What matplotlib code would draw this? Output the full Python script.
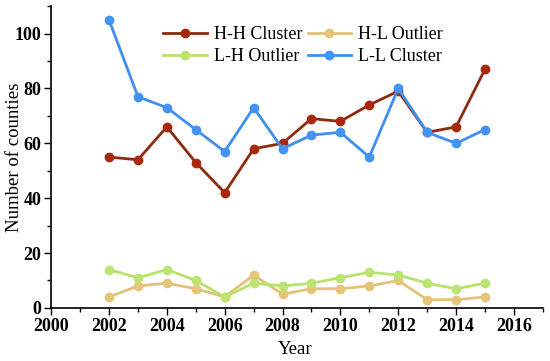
import matplotlib.pyplot as plt
from matplotlib.ticker import MultipleLocator

# DATA
years = [2002, 2003, 2004, 2005, 2006, 2007, 2008, 2009, 2010, 2011, 2012, 2013, 2014, 2015]
hh_cluster = [55, 54, 66, 53, 42, 58, 60, 69, 68, 74, 79, 64, 66, 87]
hl_outlier = [4, 8, 9, 7, 4, 12, 5, 7, 7, 8, 10, 3, 3, 4]
lh_outlier = [14, 11, 14, 10, 4, 9, 8, 9, 11, 13, 12, 9, 7, 9]
ll_cluster = [105, 77, 73, 65, 57, 73, 58, 63, 64, 55, 80, 64, 60, 65]

plt.rcParams['font.family'] = ['Liberation Serif', 'DejaVu Serif']


def main():
    fig = plt.figure(figsize=(5.5, 3.61), dpi=100)
    ax = fig.add_axes([0.093, 0.147, 0.894, 0.836])

    l1, = ax.plot(years, hh_cluster, color='#8e2a0e', marker='o', markersize=6,
                  markerfacecolor='#a8280c', markeredgecolor='#a8280c', lw=2, label='H-H Cluster')
    l2, = ax.plot(years, hl_outlier, color='#e3c278', marker='o', markersize=6,
                  markerfacecolor='#e6c57a', markeredgecolor='#e6c57a', lw=2, label='H-L Outlier')
    l3, = ax.plot(years, lh_outlier, color='#b8e26e', marker='o', markersize=6,
                  markerfacecolor='#bde473', markeredgecolor='#bde473', lw=2, label='L-H Outlier')
    l4, = ax.plot(years, ll_cluster, color='#3f8ff0', marker='o', markersize=6,
                  markerfacecolor='#4492f2', markeredgecolor='#4492f2', lw=2, label='L-L Cluster')

    ax.set_xlim(2000, 2017)
    ax.set_ylim(0, 110)
    ax.xaxis.set_major_locator(MultipleLocator(2))
    ax.xaxis.set_minor_locator(MultipleLocator(1))
    ax.yaxis.set_major_locator(MultipleLocator(20))
    ax.yaxis.set_minor_locator(MultipleLocator(10))
    ax.tick_params(which='major', direction='out', length=5, width=1, pad=2)
    ax.tick_params(which='minor', direction='out', length=3, width=1)
    for lab in ax.get_xticklabels() + ax.get_yticklabels():
        lab.set_fontweight('bold')
        lab.set_fontsize(13)

    ax.spines['top'].set_visible(False)
    ax.spines['right'].set_visible(False)
    ax.spines['left'].set_linewidth(1.2)
    ax.spines['bottom'].set_linewidth(1.2)

    ax.set_xlabel('Year', fontsize=13.5)
    ax.xaxis.set_label_coords(0.497, -0.108)
    ax.set_ylabel('Number of counties', fontsize=13.5)
    ax.yaxis.set_label_coords(-0.058, 0.5)

    # column-major fill: H-H / L-H in first column, H-L / L-L in second
    ax.legend([l1, l3, l2, l4], [l1.get_label(), l3.get_label(), l2.get_label(), l4.get_label()],
              loc='upper left', bbox_to_anchor=(0.195, 0.988), ncol=2, frameon=False,
              fontsize=13, handlelength=2.4, columnspacing=0.3, handletextpad=0.4,
              labelspacing=0.3)

    fig.savefig('out.png', dpi=100)


if __name__ == "__main__":
    main()
